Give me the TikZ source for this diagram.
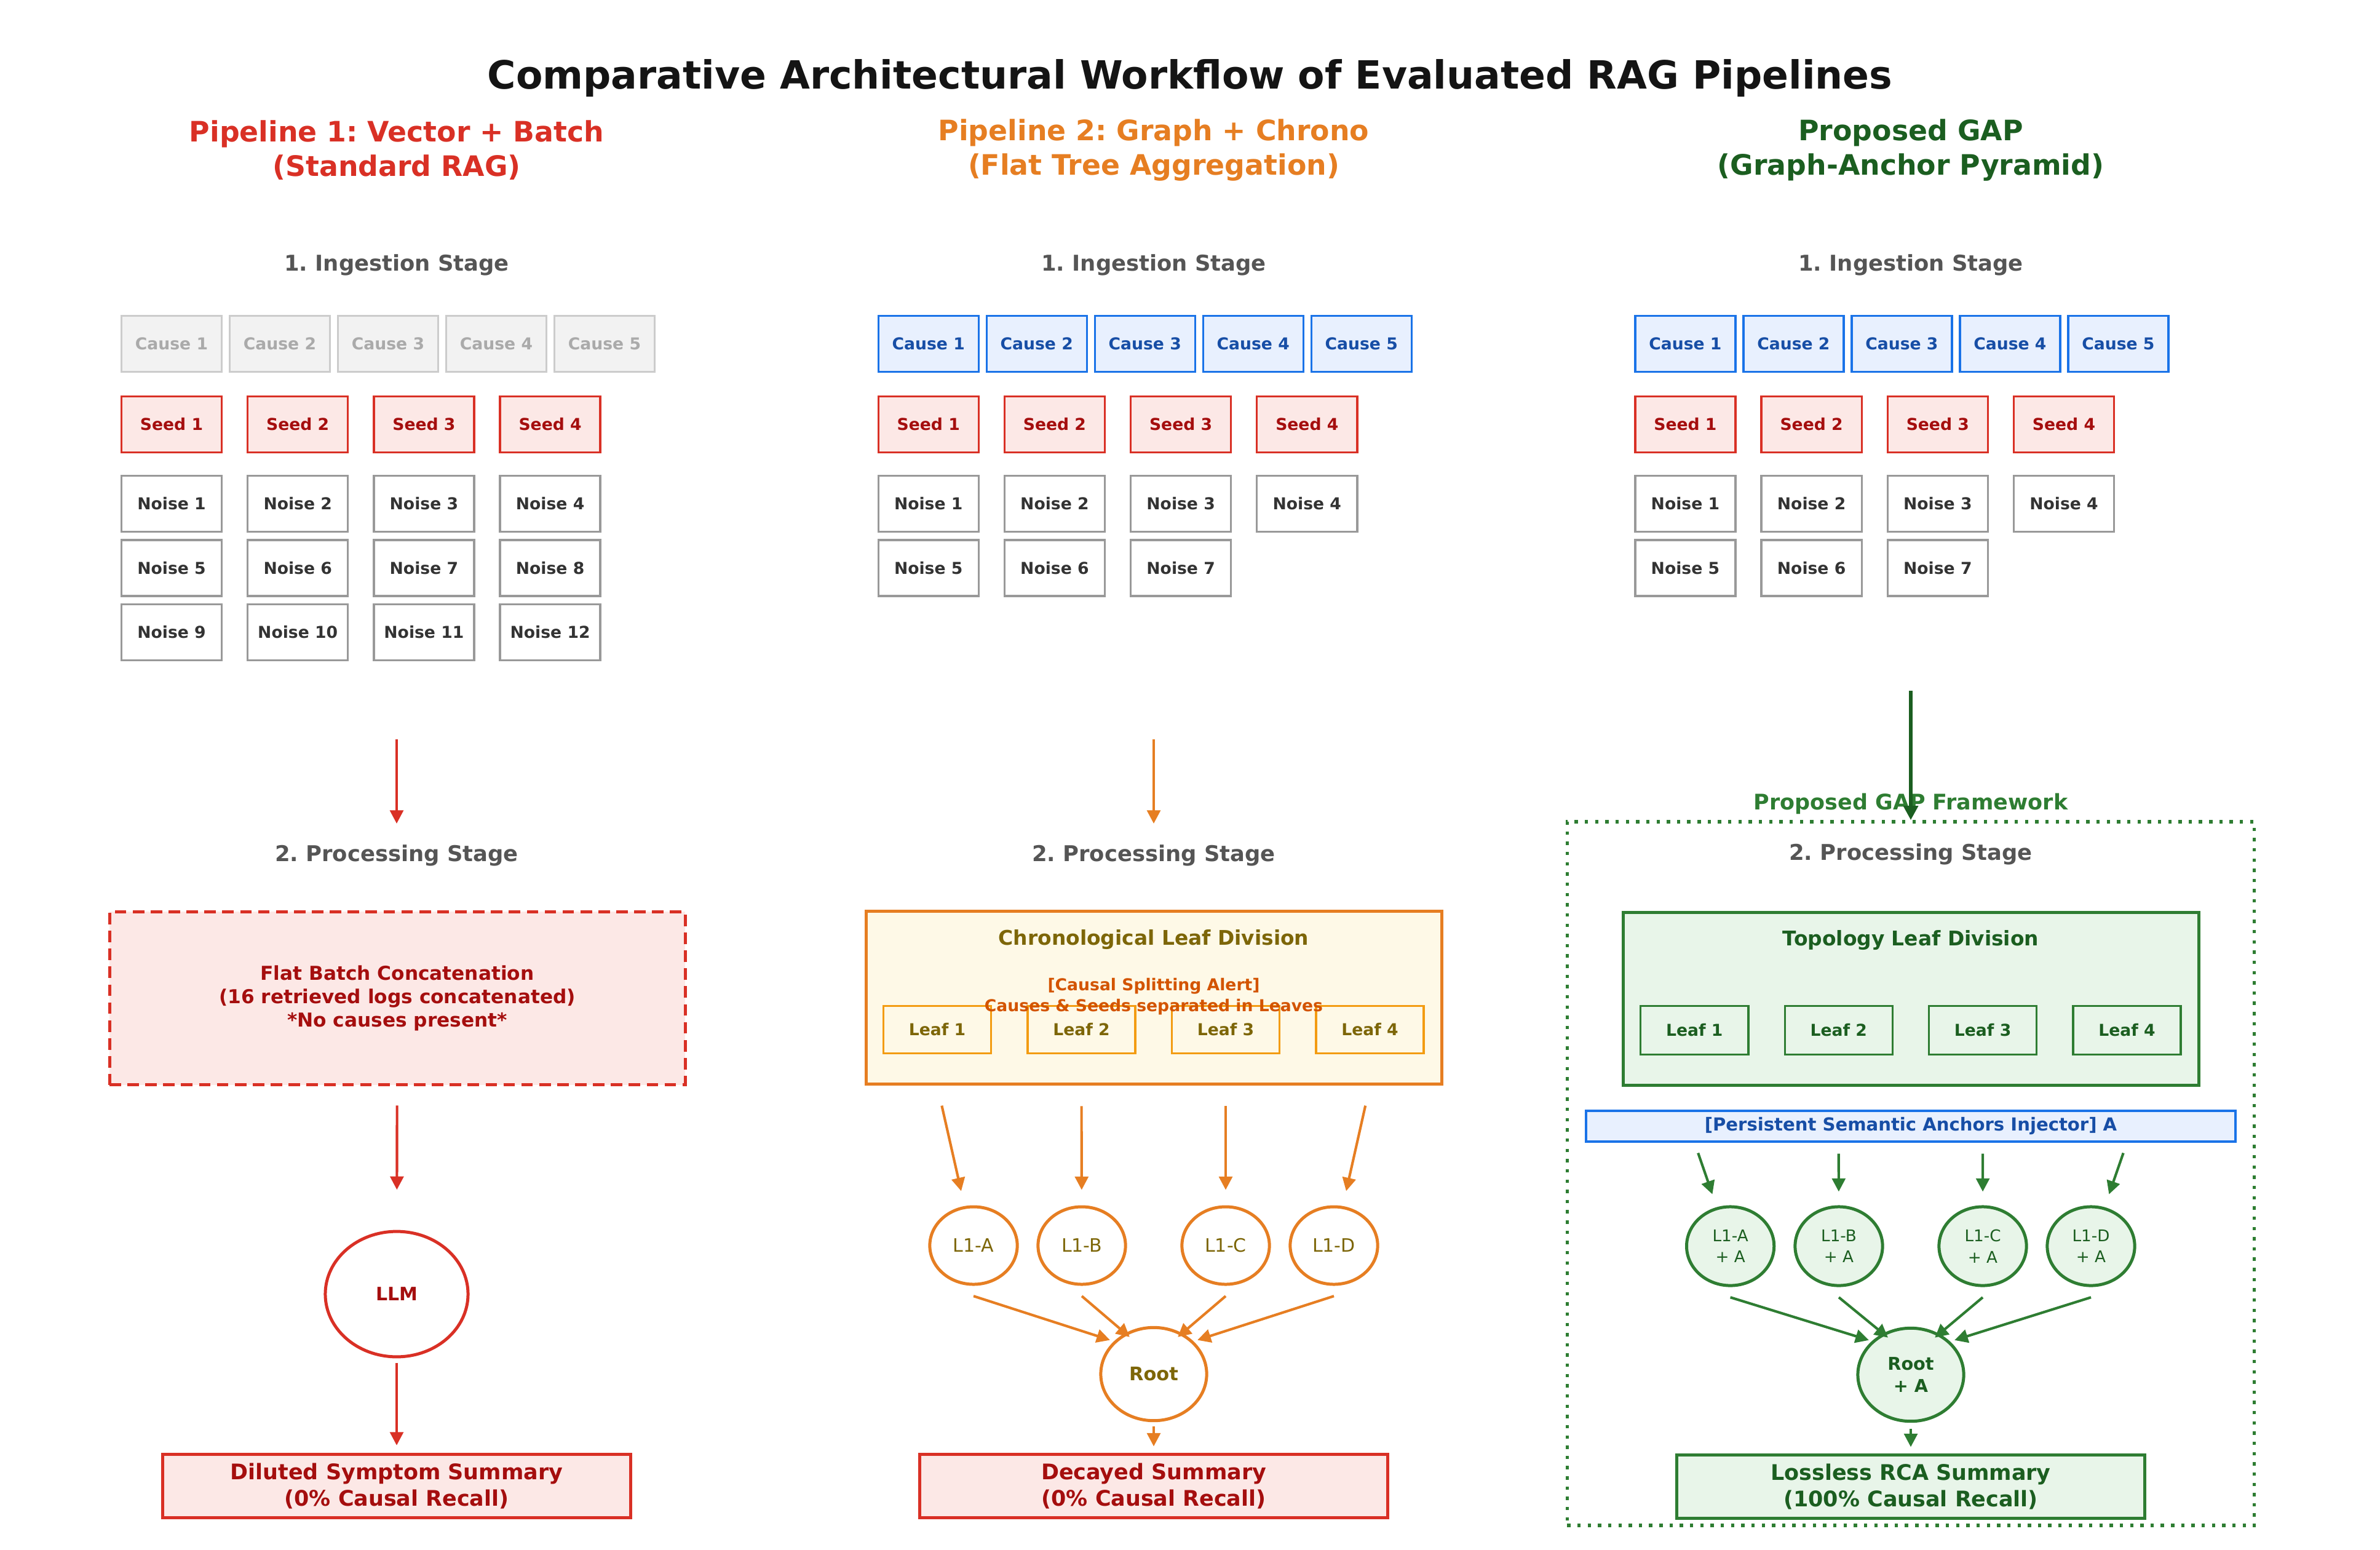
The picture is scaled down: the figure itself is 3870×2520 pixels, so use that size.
\documentclass[tikz,border=0pt]{standalone}
\usepackage{fontspec}
\setmainfont{DejaVu Sans}
\usepackage{xcolor}
\usetikzlibrary{positioning,arrows.meta,shapes.geometric}
\frenchspacing
\definecolor{titleblack}{HTML}{141414}
\definecolor{stagegrey}{HTML}{555555}
\definecolor{ghostline}{HTML}{CCCCCC}
\definecolor{ghostfill}{HTML}{F2F2F2}
\definecolor{ghosttext}{HTML}{AAAAAA}
\definecolor{causeline}{HTML}{1A73E8}
\definecolor{causefill}{HTML}{E8F0FE}
\definecolor{causetext}{HTML}{174EA6}
\definecolor{seedline}{HTML}{D93025}
\definecolor{seedfill}{HTML}{FCE8E6}
\definecolor{seedtext}{HTML}{A50E0E}
\definecolor{noiseline}{HTML}{999999}
\definecolor{noisetext}{HTML}{333333}
\definecolor{chronoline}{HTML}{E67E22}
\definecolor{leafline}{HTML}{F39C12}
\definecolor{chronofill}{HTML}{FEF9E7}
\definecolor{olivetext}{HTML}{7D6608}
\definecolor{alerttext}{HTML}{D35400}
\definecolor{gapline}{HTML}{2E7D32}
\definecolor{gapfill}{HTML}{E8F5E9}
\definecolor{gaptext}{HTML}{1B5E20}

\begin{document}
\begin{tikzpicture}[x=0.0033333in, y=-0.0033333in,
  font=\bfseries\fontsize{6.4}{8}\selectfont,
  box/.style={draw, line width=0.8pt, minimum width=39.2pt, minimum height=21.8pt, inner sep=0pt},
  ghost/.style={box, draw=ghostline, fill=ghostfill, text=ghosttext},
  cause/.style={box, draw=causeline, fill=causefill, text=causetext},
  seed/.style={box, draw=seedline, fill=seedfill, text=seedtext},
  noise/.style={box, draw=noiseline, fill=white, text=noisetext},
  colhead/.style={align=center, font=\bfseries\fontsize{11}{13.3}\selectfont},
  stage/.style={text=stagegrey, font=\bfseries\fontsize{8.5}{10}\selectfont},
  panel/.style={draw, line width=1.2pt, minimum width=225pt, minimum height=67.6pt, inner sep=0pt},
  leaf/.style={draw, line width=0.8pt, minimum width=42.1pt, minimum height=18.6pt, inner sep=0pt},
  summ/.style={draw, line width=1.2pt, minimum width=183.1pt, minimum height=24.6pt, inner sep=0pt, align=center, font=\bfseries\fontsize{8.4}{10.4}\selectfont},
  bubble/.style={ellipse, draw, line width=1.2pt, fill=white, minimum width=34.2pt, minimum height=30.3pt, inner sep=0pt, align=center},
  arr/.style={-{Triangle[length=5.2pt,width=5.2pt]}, line width=1pt}]
  \useasboundingbox (0,0) rectangle (3870,2520);

  \node[text=titleblack, font=\bfseries\fontsize{15.2}{18}\selectfont] (title) at (1935,127) {Comparative Architectural Workflow of Evaluated RAG Pipelines};

  % Pipeline 1
  \node[colhead, text=seedline] (p1-head) at (645,244) {Pipeline 1: Vector + Batch\\(Standard RAG)};
  \node[stage] (p1-ing) at (645,431) {1. Ingestion Stage};
  \foreach \i in {1,...,5} \node[ghost] (p1-c\i) at ({279+176*(\i-1)},559) {Cause \i};
  \foreach \i in {1,...,4} \node[seed] (p1-s\i) at ({279+205.2*(\i-1)},690) {Seed \i};
  \foreach \i in {1,...,12} {
    \pgfmathtruncatemacro\row{(\i-1)/4}
    \pgfmathtruncatemacro\col{mod(\i-1,4)}
    \node[noise] (p1-n\i) at ({279+205.2*\col},{819+104.5*\row}) {Noise \i};
  }
  \coordinate (p1-from) at (645,1202);
  \coordinate (p1-to) at (645,1339);
  \draw[arr, seedline] (p1-from) -- (p1-to);
  \node[stage] (p1-proc) at (645,1391) {2. Processing Stage};
  \node[panel, dash pattern=on 4.5pt off 2.5pt, draw=seedline, fill=seedfill, text=seedtext, align=center, font=\bfseries\fontsize{7.5}{9.2}\selectfont] (flat) at (646,1623) {Flat Batch Concatenation\\(16 retrieved logs concatenated)\\*No causes present*};
  \node[bubble, draw=seedline, text=seedtext, minimum width=55.8pt, minimum height=49pt, font=\bfseries\fontsize{7.2}{8.6}\selectfont] (llm) at (645,2104) {LLM};
  \node[summ, draw=seedline, fill=seedfill, text=seedtext] (p1-sum) at (645,2416) {Diluted Symptom Summary\\(0\% Causal Recall)};
  \draw[arr, seedline, shorten <=7.5pt, shorten >=15.7pt] (flat) -- (llm);
  \draw[arr, seedline, shorten <=1.7pt, shorten >=3pt] (llm) -- (p1-sum);

  % Pipeline 2
  \node[colhead, text=chronoline] (p2-head) at (1876,244) {Pipeline 2: Graph + Chrono\\(Flat Tree Aggregation)};
  \node[stage] (p2-ing) at (1876,431) {1. Ingestion Stage};
  \foreach \i in {1,...,5} \node[cause] (p2-c\i) at ({1509.7+176*(\i-1)},559) {Cause \i};
  \foreach \i in {1,...,4} \node[seed] (p2-s\i) at ({1509.7+205.2*(\i-1)},690) {Seed \i};
  \foreach \i in {1,...,7} {
    \pgfmathtruncatemacro\row{(\i-1)/4}
    \pgfmathtruncatemacro\col{mod(\i-1,4)}
    \node[noise] (p2-n\i) at ({1509.7+205.2*\col},{819+104.5*\row}) {Noise \i};
  }
  \coordinate (p2-from) at (1876,1202);
  \coordinate (p2-to) at (1876,1339);
  \draw[arr, chronoline] (p2-from) -- (p2-to);
  \node[stage] (p2-proc) at (1876,1391) {2. Processing Stage};
  \node[panel, draw=chronoline, fill=chronofill] (chrono) at (1876,1622) {};
  \node[text=olivetext, font=\bfseries\fontsize{7.9}{9.5}\selectfont] (chrono-title) at (1876,1528) {Chronological Leaf Division};
  \foreach \i in {1,...,4} \node[leaf, draw=leafline, text=olivetext] (p2-lf\i) at ({1524+234.5*(\i-1)},1674) {Leaf \i};
  \node[text=alerttext, align=center] (alert) at (1876,1620) {[Causal Splitting Alert]\\Causes \& Seeds separated in Leaves};
  \foreach \i/\x in {a/1583,b/1759,c/1993,d/2169}
    \node[bubble, draw=chronoline, text=olivetext, font=\mdseries\fontsize{7.2}{8.6}\selectfont] (p2-l1\i) at (\x,2025) {L1-\MakeUppercase{\i}};
  \node[bubble, draw=chronoline, text=olivetext, minimum width=41.4pt, minimum height=36.4pt, font=\bfseries\fontsize{7.3}{8.8}\selectfont] (p2-root) at (1876,2234) {Root};
  \node[summ, draw=seedline, fill=seedfill, text=seedtext] (p2-sum) at (1876,2416) {Decayed Summary\\(0\% Causal Recall)};
  \foreach \i/\e in {1/a,2/b,3/c,4/d}
    \draw[arr, chronoline, shorten <=8pt, shorten >=6pt] (p2-lf\i |- chrono.south) -- (p2-l1\e);
  \draw[arr, chronoline] ([yshift=-4pt]p2-l1a.south) -- ([xshift=-17.1pt,yshift=-5.5pt]p2-root.north);
  \draw[arr, chronoline] ([yshift=-4pt]p2-l1b.south) -- ([xshift=-9.4pt,yshift=-4.3pt]p2-root.north);
  \draw[arr, chronoline] ([yshift=-4pt]p2-l1c.south) -- ([xshift=9.4pt,yshift=-4.3pt]p2-root.north);
  \draw[arr, chronoline] ([yshift=-4pt]p2-l1d.south) -- ([xshift=17.1pt,yshift=-5.5pt]p2-root.north);
  \draw[arr, chronoline, shorten <=1.7pt, shorten >=2.6pt] (p2-root) -- (p2-sum);

  % Proposed GAP
  \node[colhead, text=gaptext] (p3-head) at (3107,244) {Proposed GAP\\(Graph-Anchor Pyramid)};
  \node[stage] (p3-ing) at (3107,431) {1. Ingestion Stage};
  \foreach \i in {1,...,5} \node[cause] (p3-c\i) at ({2740.4+176*(\i-1)},559) {Cause \i};
  \foreach \i in {1,...,4} \node[seed] (p3-s\i) at ({2740.4+205.2*(\i-1)},690) {Seed \i};
  \foreach \i in {1,...,7} {
    \pgfmathtruncatemacro\row{(\i-1)/4}
    \pgfmathtruncatemacro\col{mod(\i-1,4)}
    \node[noise] (p3-n\i) at ({2740.4+205.2*\col},{819+104.5*\row}) {Noise \i};
  }
  \node[draw=gapline, line width=1.3pt, dash pattern=on 1.3pt off 2.7pt, minimum width=268.6pt, minimum height=275pt, inner sep=0pt] (gapframe) at (3107,1908) {};
  \node[text=gapline, font=\bfseries\fontsize{8.4}{10}\selectfont] (gap-label) at (3107,1307) {Proposed GAP Framework};
  \coordinate (p3-from) at (3107,1123);
  \draw[-{Triangle[length=5.6pt,width=5.6pt]}, gaptext, line width=1.45pt] (p3-from) -- (gapframe.north);
  \node[stage] (p3-proc) at (3107,1389) {2. Processing Stage};
  \node[panel, draw=gapline, fill=gapfill] (topo) at (3107,1624) {};
  \node[text=gaptext, font=\bfseries\fontsize{7.9}{9.5}\selectfont] (topo-title) at (3107,1529) {Topology Leaf Division};
  \foreach \i in {1,...,4} \node[leaf, draw=gapline, fill=gapfill, text=gaptext, minimum height=19.1pt] (p3-lf\i) at ({2755.3+234.4*(\i-1)},1675) {Leaf \i};
  \node[draw=causeline, fill=causefill, text=causetext, line width=0.8pt, minimum width=253.8pt, minimum height=12pt, inner sep=0pt, font=\bfseries\fontsize{7}{8.4}\selectfont] (anchor) at (3107,1831) {[Persistent Semantic Anchors Injector] A};
  \foreach \i/\x in {a/2813.6,b/2990,c/3224,d/3400}
    \node[bubble, draw=gapline, fill=gapfill, text=gaptext, minimum height=30.8pt, font=\mdseries\fontsize{6.3}{8.3}\selectfont] (p3-l1\i) at (\x,2026) {L1-\MakeUppercase{\i}\\+ A};
  \node[bubble, draw=gapline, fill=gapfill, text=gaptext, minimum width=41.4pt, minimum height=36.4pt, font=\bfseries\fontsize{6.9}{8.7}\selectfont] (p3-root) at (3107,2235) {Root\\+ A};
  \node[summ, draw=gapline, fill=gapfill, text=gaptext] (p3-sum) at (3107,2417) {Lossless RCA Summary\\(100\% Causal Recall)};
  \foreach \i/\e in {1/a,2/b,3/c,4/d}
    \draw[arr, gapline, shorten <=4.3pt, shorten >=5.3pt] (p3-lf\i |- anchor.south) -- (p3-l1\e);
  \draw[arr, gapline] ([yshift=-4pt]p3-l1a.south) -- ([xshift=-16.4pt,yshift=-5.3pt]p3-root.north);
  \draw[arr, gapline] ([yshift=-4pt]p3-l1b.south) -- ([xshift=-8.9pt,yshift=-4.3pt]p3-root.north);
  \draw[arr, gapline] ([yshift=-4pt]p3-l1c.south) -- ([xshift=9.4pt,yshift=-4.3pt]p3-root.north);
  \draw[arr, gapline] ([yshift=-4pt]p3-l1d.south) -- ([xshift=17.1pt,yshift=-5.3pt]p3-root.north);
  \draw[arr, gapline, shorten <=2.4pt, shorten >=2.6pt] (p3-root) -- (p3-sum);
\end{tikzpicture}
\end{document}
